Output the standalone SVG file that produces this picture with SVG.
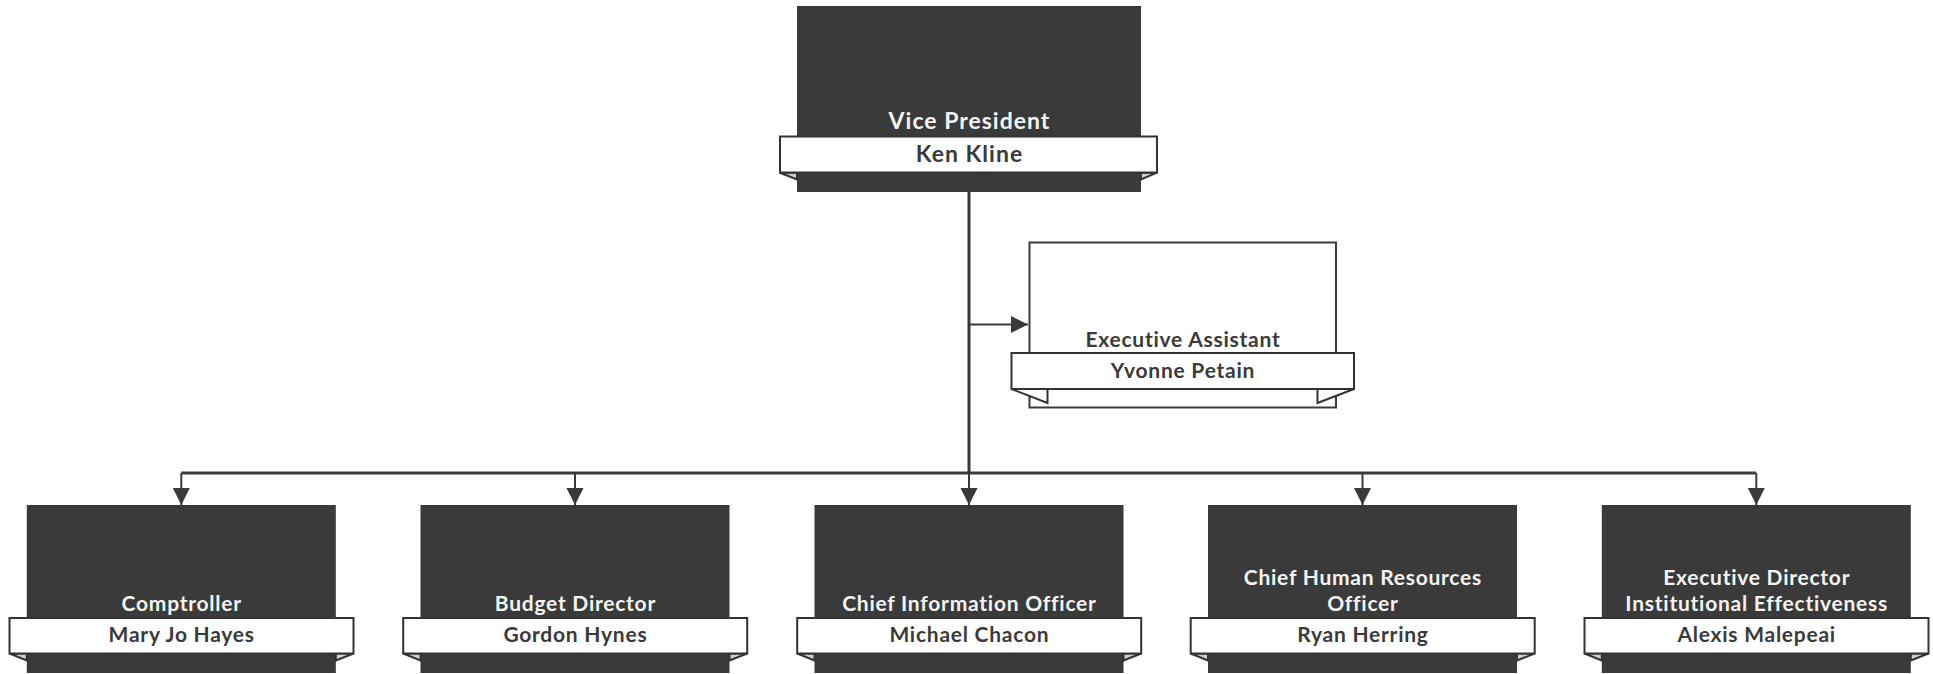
<svg xmlns="http://www.w3.org/2000/svg" width="1933" height="674" viewBox="0 0 1933 674">
<defs>
<marker id="arr" markerUnits="userSpaceOnUse" markerWidth="18" markerHeight="18" viewBox="0 0 18 18" refX="17" refY="9" orient="auto">
<path d="M0,0.5 L17,9 L0,17.5 Z" fill="#3a3a3a"/>
</marker>
<style>
.dark{fill:#3a3a3a}
.box{fill:#fff;stroke:#3a3a3a;stroke-width:2}
.ban{fill:#fff;stroke:#333;stroke-width:2}
.fold{fill:#cfcfcf;stroke:#333;stroke-width:2;stroke-linejoin:miter}
.foldw{fill:#fff;stroke:#333;stroke-width:2}
.t{font-family:Lato,"Liberation Sans",sans-serif;font-weight:700;font-size:21px;letter-spacing:0.75px;text-anchor:middle}
.big{font-size:23px;letter-spacing:1px}
.tw{fill:#f4f4f4}
.td{fill:#3a3a3a}
.trunk{fill:none;stroke:#3a3a3a;stroke-width:3}
.drop{fill:none;stroke:#3a3a3a;stroke-width:2}
</style>
</defs>

<g id="connectors">
<path class="trunk" d="M969,192 V473"/>
<path class="trunk" d="M181.3,473 H1756.3"/>
<path class="drop" d="M969,324.5 H1028" marker-end="url(#arr)"/>
<path class="drop" d="M181.3,473 V505" marker-end="url(#arr)"/>
<path class="drop" d="M575,473 V505" marker-end="url(#arr)"/>
<path class="drop" d="M969,473 V505" marker-end="url(#arr)"/>
<path class="drop" d="M1362.5,473 V505" marker-end="url(#arr)"/>
<path class="drop" d="M1756.3,473 V505" marker-end="url(#arr)"/>
</g>

<g id="vp">
<rect class="dark" x="797" y="6" width="344" height="186"/>
<polygon class="fold" points="780,172.7 797,172.7 797,179.5"/>
<polygon class="fold" points="1157,172.7 1141,172.7 1141,179.5"/>
<rect class="ban" x="780" y="136.5" width="377" height="36"/>
<text class="t tw big" x="969.5" y="129">Vice President</text>
<text class="t td big" x="969.5" y="162">Ken Kline</text>
</g>

<g id="ea">
<rect class="box" x="1029.5" y="242.5" width="306.5" height="165"/>
<polygon class="foldw" points="1011.5,389 1047.5,389 1047.5,403"/>
<polygon class="foldw" points="1354,389 1317.5,389 1317.5,403"/>
<rect class="ban" x="1011.5" y="353" width="342.5" height="36"/>
<text class="t td" x="1183" y="347.3">Executive Assistant</text>
<text class="t td" x="1183" y="377.5">Yvonne Petain</text>
</g>

<g id="n1">
<rect class="dark" x="26.8" y="505" width="309" height="168"/>
<polygon class="fold" points="9.5,653.5 26.8,653.5 26.8,660.5"/>
<polygon class="fold" points="353.5,653.5 335.8,653.5 335.8,660.5"/>
<rect class="ban" x="9.5" y="618" width="344" height="35.5"/>
<text class="t tw" x="181.7" y="610.7">Comptroller</text>
<text class="t td" x="181.7" y="642">Mary Jo Hayes</text>
</g>

<g id="n2">
<rect class="dark" x="420.5" y="505" width="309" height="168"/>
<polygon class="fold" points="403.2,653.5 420.5,653.5 420.5,660.5"/>
<polygon class="fold" points="747.2,653.5 729.5,653.5 729.5,660.5"/>
<rect class="ban" x="403.2" y="618" width="344" height="35.5"/>
<text class="t tw" x="575.4" y="610.7">Budget Director</text>
<text class="t td" x="575.4" y="642">Gordon Hynes</text>
</g>

<g id="n3">
<rect class="dark" x="814.5" y="505" width="309" height="168"/>
<polygon class="fold" points="797.2,653.5 814.5,653.5 814.5,660.5"/>
<polygon class="fold" points="1141.2,653.5 1123.5,653.5 1123.5,660.5"/>
<rect class="ban" x="797.2" y="618" width="344" height="35.5"/>
<text class="t tw" x="969.4" y="610.7">Chief Information Officer</text>
<text class="t td" x="969.4" y="642">Michael Chacon</text>
</g>

<g id="n4">
<rect class="dark" x="1208" y="505" width="309" height="168"/>
<polygon class="fold" points="1190.7,653.5 1208,653.5 1208,660.5"/>
<polygon class="fold" points="1534.7,653.5 1517,653.5 1517,660.5"/>
<rect class="ban" x="1190.7" y="618" width="344" height="35.5"/>
<text class="t tw" x="1362.9" y="585">Chief Human Resources</text>
<text class="t tw" x="1362.9" y="610.7">Officer</text>
<text class="t td" x="1362.9" y="642">Ryan Herring</text>
</g>

<g id="n5">
<rect class="dark" x="1601.8" y="505" width="309" height="168"/>
<polygon class="fold" points="1584.5,653.5 1601.8,653.5 1601.8,660.5"/>
<polygon class="fold" points="1928.5,653.5 1910.8,653.5 1910.8,660.5"/>
<rect class="ban" x="1584.5" y="618" width="344" height="35.5"/>
<text class="t tw" x="1756.7" y="585">Executive Director</text>
<text class="t tw" x="1756.7" y="610.7">Institutional Effectiveness</text>
<text class="t td" x="1756.7" y="642">Alexis Malepeai</text>
</g>
</svg>
